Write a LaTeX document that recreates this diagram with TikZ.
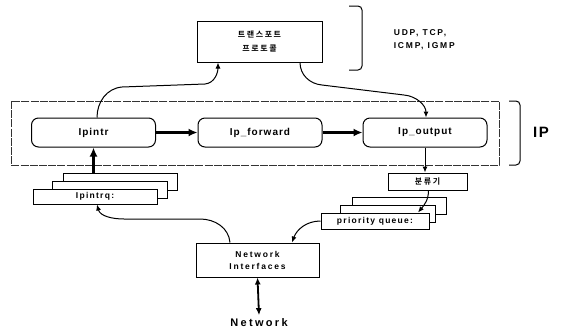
\documentclass[tikz,border=0pt]{standalone}
\usepackage{fontspec}
\setmainfont{Liberation Sans}[LetterSpace=10]
\newfontfamily\widefont{Liberation Sans}[LetterSpace=15]
\newfontfamily\widerfont{Liberation Sans}[LetterSpace=21]
\newfontfamily\korfont{Noto Sans CJK KR}[LetterSpace=20,BoldFont={* Bold}]
\usetikzlibrary{arrows.meta}

\begin{document}
\begin{tikzpicture}[x=1pt,y=-1pt,line width=1pt,
    >={Latex[length=6pt,width=5pt]},
    box/.style={draw,fill=white,inner sep=0pt,font=\widefont\bfseries\fontsize{8.5}{10}\selectfont},
    proc/.style={draw,rounded corners=7pt,minimum width=124pt,minimum height=29pt,inner sep=0pt,font=\bfseries\fontsize{10}{12}\selectfont},
    bigarrow/.style={->,line width=2.6pt,>={Latex[length=9pt,width=8pt]}}]
    \useasboundingbox (0,0) rectangle (562,333);

    \node[box,minimum width=125pt,minimum height=41pt,align=center,font=\korfont\bfseries\fontsize{8}{14}\selectfont] (tp) at (259.5,41.5) {트랜스포트\\프로토콜};
    \draw[rounded corners=4pt] (349,6) -- (362,6) -- (362,70) -- (349,70);
    \node[anchor=west,align=left,font=\widerfont\bfseries\fontsize{8.5}{13}\selectfont] (proto) at (390,40) {UDP, TCP,\\ICMP, IGMP};

    \draw[dash pattern=on 8pt off 1.2pt,line width=0.7pt,black!80] (11,101) rectangle (499,165);
    \node[proc] (ipintr) at (93.5,132.5) {Ipintr};
    \node[proc] (ipfwd) at (260,132.5) {Ip\_forward};
    \node[proc] (ipout) at (425,132.5) {Ip\_output};
    \draw[rounded corners=4pt] (509,101) -- (520,101) -- (520,165) -- (509,165);
    \node[font=\bfseries\fontsize{15}{18}\selectfont] (ip) at (541,132) {IP};

    \node[box,minimum width=79pt,minimum height=17pt,font=\korfont\bfseries\fontsize{8}{10}\selectfont] (cls) at (427.5,181.5) {분류기};
    \node[box,minimum width=94pt,minimum height=17pt] (pqback) at (399,205.5) {};
    \node[box,minimum width=95pt,minimum height=17pt] (pqmid) at (387.5,213.5) {};
    \node[box,minimum width=108pt,minimum height=16pt] (pq) at (375,221) {priority queue:};

    \node[box,minimum width=114pt,minimum height=17pt] (iqback) at (120,181.5) {};
    \node[box,minimum width=115pt,minimum height=17pt] (iqmid) at (109.5,189.5) {};
    \node[box,minimum width=124pt,minimum height=15pt] (iq) at (95,196.5) {Ipintrq:};

    \node[box,minimum width=123pt,minimum height=34pt,align=center,font=\widerfont\bfseries\fontsize{8.5}{12}\selectfont] (ni) at (257.5,260) {Network\\Interfaces};
    \node[font=\widerfont\bfseries\fontsize{11}{13}\selectfont] (net) at (259,323) {Network};

    \draw[bigarrow] (ipintr) -- (ipfwd);
    \draw[bigarrow] (ipfwd) -- (ipout);
    \draw[bigarrow] (ipintr.south |- iqback.north) -- (ipintr.south);
    \draw[->] ([xshift=3.5pt]ipintr.north) to[out=90,in=185] (122,87) -- (205,84) to[out=5,in=-90] ([xshift=-41.5pt]tp.south);
    \draw[->] ([xshift=40.5pt]tp.south) to[out=-90,in=175] (322,85) -- (404,95) to[out=-5,in=90] ([xshift=1pt]ipout.north);
    \draw[->] (ipout.south) -- (ipout.south |- cls.north);
    \draw[->] ([xshift=1pt]cls.south) to[out=-90,in=50] ([xshift=43pt]pq.north);
    \draw[->] (pq.west) to[out=180,in=70] ([xshift=34.5pt]ni.north);
    \draw[->] ([xshift=-27.5pt]ni.north) to[out=95,in=0] (200,219) -- (124,219) to[out=180,in=-75] ([xshift=2pt]iq.south);
    \draw[<->,line width=1.8pt,>={Latex[length=7pt,width=6pt]}] (ni.south) -- (net.north);
\end{tikzpicture}
\end{document}
